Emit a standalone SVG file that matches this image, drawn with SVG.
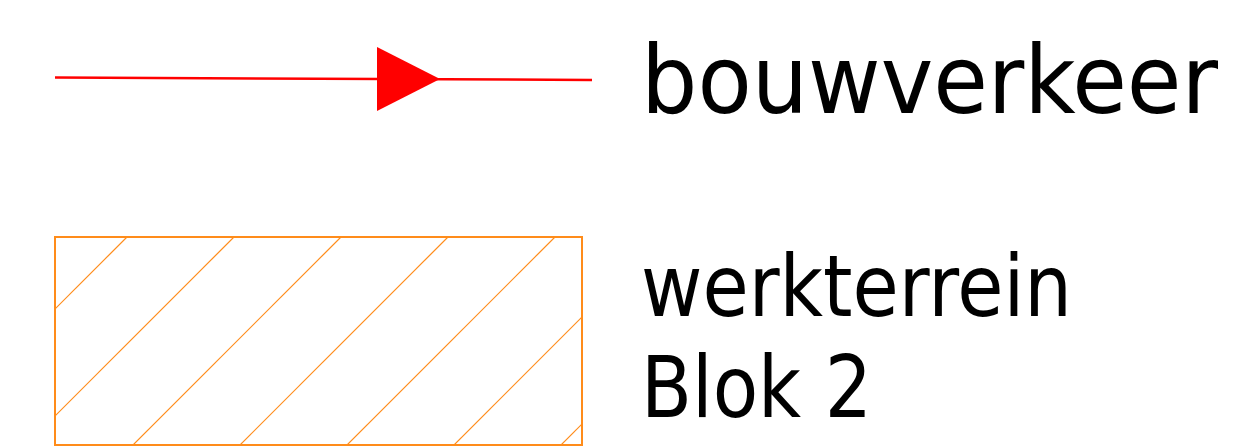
<svg xmlns="http://www.w3.org/2000/svg" width="1257" height="446" viewBox="0 0 1257 446">
  <style>
    .lbl { font-family: "DejaVu Sans Condensed", "DejaVu Sans", sans-serif; font-size: 95px; fill: #000; }
    .lbl2 { font-family: "DejaVu Sans Condensed", "DejaVu Sans", sans-serif; font-size: 85px; fill: #000; }
    .hatch { stroke: #FF8C1A; stroke-width: 1.2; fill: none; }
    .frame { stroke: #FF8C1A; stroke-width: 2; fill: none; }
  </style>
  <defs>
    <clipPath id="rc"><rect x="55" y="237" width="527" height="208"/></clipPath>
  </defs>
  <rect width="1257" height="446" fill="#fff"/>
  <g id="connectors">
    <line x1="55" y1="77.5" x2="592" y2="80" stroke="#FF0000" stroke-width="2.5"/>
    <polygon points="377,47 440,79 377,111" fill="#FF0000"/>
  </g>
  <g id="legend-bouwverkeer">
    <text class="lbl" x="641" y="113" textLength="577" lengthAdjust="spacingAndGlyphs">bouwverkeer</text>
  </g>
  <g id="werkterrein-symbol">
    <g clip-path="url(#rc)" class="hatch">
      <line x1="364" y1="0" x2="0" y2="364"/>
      <line x1="471" y1="0" x2="0" y2="471"/>
      <line x1="578" y1="0" x2="0" y2="578"/>
      <line x1="685" y1="0" x2="0" y2="685"/>
      <line x1="792" y1="0" x2="0" y2="792"/>
      <line x1="899" y1="0" x2="0" y2="899"/>
      <line x1="1006" y1="0" x2="0" y2="1006"/>
    </g>
    <rect class="frame" x="55" y="237" width="527" height="208"/>
  </g>
  <g id="legend-werkterrein">
    <text class="lbl2" x="641" y="316" textLength="431" lengthAdjust="spacingAndGlyphs">werkterrein</text>
    <text class="lbl2" x="641" y="417" textLength="231" lengthAdjust="spacingAndGlyphs">Blok 2</text>
  </g>
</svg>
